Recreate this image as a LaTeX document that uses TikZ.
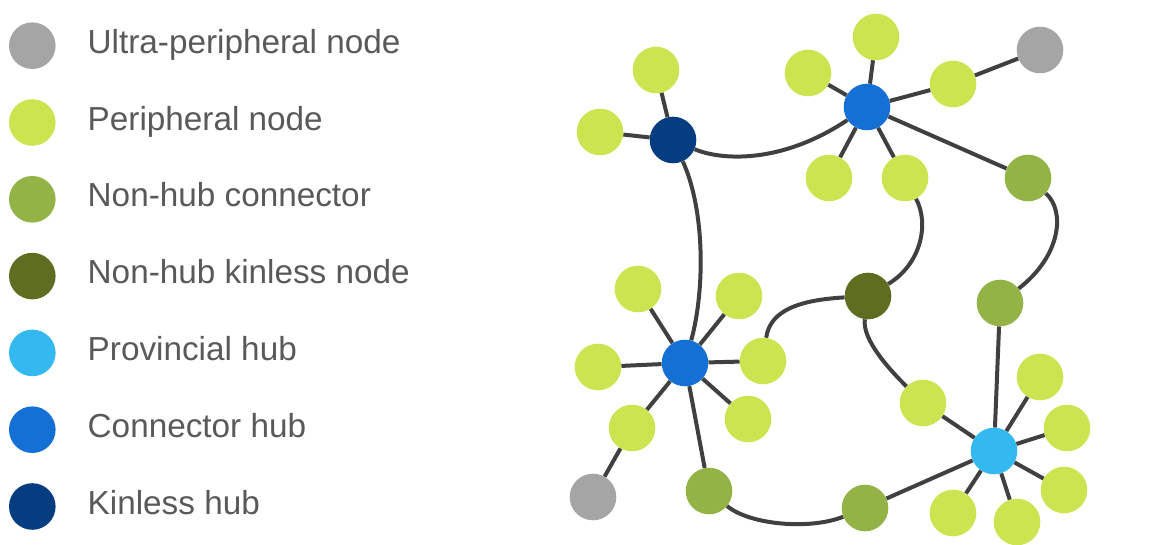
\documentclass[tikz,border=0pt]{standalone}
\usepackage{fontspec}
\setmainfont{Liberation Sans}
\definecolor{cUltra}{HTML}{A5A5A5}
\definecolor{cPeri}{HTML}{CCE450}
\definecolor{cNHC}{HTML}{93B347}
\definecolor{cNHK}{HTML}{5E6E20}
\definecolor{cProv}{HTML}{33B8F0}
\definecolor{cConn}{HTML}{1570D6}
\definecolor{cKinl}{HTML}{053D80}
\definecolor{cEdge}{HTML}{404040}
\definecolor{cText}{HTML}{595959}
\begin{document}
\begin{tikzpicture}[x=1pt,y=-1pt,
  dot/.style={circle,inner sep=0pt,minimum size=46.6pt,draw=none},
  ultra/.style={dot,fill=cUltra},
  peri/.style={dot,fill=cPeri},
  nhc/.style={dot,fill=cNHC},
  nhk/.style={dot,fill=cNHK},
  prov/.style={dot,fill=cProv},
  conn/.style={dot,fill=cConn},
  kinl/.style={dot,fill=cKinl},
  edge/.style={draw=cEdge,line width=4pt},
  legtext/.style={anchor=base west,inner sep=0pt,text=cText,font=\fontsize{33.3}{40}\selectfont}]
\useasboundingbox (0,0) rectangle (1166,545);
% legend
\node[ultra] (l1) at (32.3,45.7) {};
\node[peri]  (l2) at (32.3,122.5) {};
\node[nhc]   (l3) at (32.3,199.3) {};
\node[nhk]   (l4) at (32.3,276.1) {};
\node[prov]  (l5) at (32.3,352.9) {};
\node[conn]  (l6) at (32.3,429.7) {};
\node[kinl]  (l7) at (32.3,506.5) {};
\node[legtext] (t1) at (87.5,53.4) {Ultra-peripheral node};
\node[legtext] (t2) at (87.5,130.2) {Peripheral node};
\node[legtext] (t3) at (87.5,207.0) {Non-hub connector};
\node[legtext] (t4) at (87.5,283.8) {Non-hub kinless node};
\node[legtext] (t5) at (87.5,360.6) {Provincial hub};
\node[legtext] (t6) at (87.5,437.4) {Connector hub};
\node[legtext] (t7) at (87.5,514.2) {Kinless hub};
% network nodes
\node[kinl] (kh) at (673,140) {};
\node[conn] (ca) at (867,107) {};
\node[conn] (cb) at (685,363) {};
\node[prov] (ph) at (994,451) {};
\node[nhk] (nk) at (868,296) {};
\node[nhc] (na) at (1028,178) {};
\node[nhc] (nb) at (1000,303) {};
\node[nhc] (nc) at (709,491) {};
\node[nhc] (nd) at (865,508) {};
\node[ultra] (ua) at (1040,50) {};
\node[ultra] (ub) at (593,497) {};
\node[peri] (p1) at (656,70) {};
\node[peri] (p2) at (600,132) {};
\node[peri] (p3) at (808,73) {};
\node[peri] (p4) at (876,37) {};
\node[peri] (p5) at (953,84) {};
\node[peri] (p6) at (829,178) {};
\node[peri] (p7) at (905,178) {};
\node[peri] (p8) at (923,403) {};
\node[peri] (p9) at (1040,377) {};
\node[peri] (p10) at (1067,428) {};
\node[peri] (p11) at (1064,490) {};
\node[peri] (p12) at (1017,522) {};
\node[peri] (p13) at (953,513) {};
\node[peri] (p14) at (638,289) {};
\node[peri] (p15) at (739,296) {};
\node[peri] (p16) at (598,367) {};
\node[peri] (p17) at (763,361) {};
\node[peri] (p18) at (632,428) {};
\node[peri] (p19) at (748,419) {};
% straight edges
\foreach \a/\b in {p1/kh,p2/kh,p3/ca,p4/ca,p5/ca,p5/ua,p6/ca,p7/ca,ca/na,
  nb/ph,p8/ph,ph/p9,ph/p10,ph/p11,ph/p12,ph/p13,ph/nd,
  cb/p14,cb/p15,cb/p16,cb/p17,cb/p18,cb/p19,cb/nc,p18/ub}
  \draw[edge] (\a) -- (\b);
% curved edges
\draw[edge] (kh) .. controls (720,160) and (780,165) .. (ca);
\draw[edge] (kh) .. controls (705,210) and (705,290) .. (cb);
\draw[edge] (p7) .. controls (930,225) and (920,265) .. (nk);
\draw[edge] (na) .. controls (1065,210) and (1062,255) .. (nb);
\draw[edge] (nk) .. controls (800,300) and (770,310) .. (p17);
\draw[edge] (nk) .. controls (862,340) and (890,370) .. (p8);
\draw[edge] (nc) .. controls (750,525) and (810,530) .. (nd);
\end{tikzpicture}
\end{document}
